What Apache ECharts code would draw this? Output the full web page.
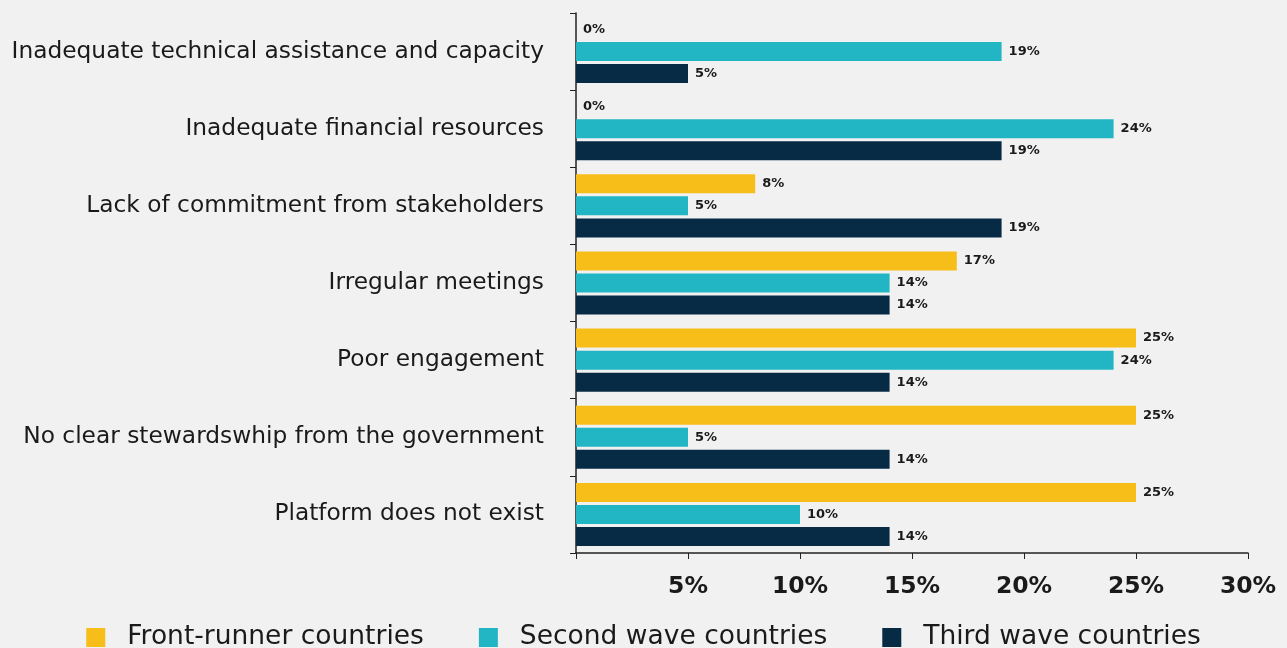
<!DOCTYPE html>
<html><head><meta charset="utf-8">
<script src="https://cdn.jsdelivr.net/npm/echarts@6/dist/echarts.min.js"></script>
<style>html,body{margin:0;padding:0;background:#f1f1f1;}#c{width:1287px;height:648px;}</style>
</head><body><div id="c"></div>
<script>
const categories = [
  "Inadequate technical assistance and capacity",
  "Inadequate financial resources",
  "Lack of commitment from stakeholders",
  "Irregular meetings",
  "Poor engagement",
  "No clear stewardswhip from the government",
  "Platform does not exist"
];
const seriesNames = ["Front-runner countries", "Second wave countries", "Third wave countries"];
const frontRunner = [0, 0, 8, 17, 25, 25, 25];
const secondWave = [19, 24, 5, 14, 24, 5, 10];
const thirdWave = [5, 19, 19, 14, 14, 14, 14];
const colors = ["#F7BE1A", "#22B5C3", "#072A45"];

const font = "DejaVu Sans";
const chart = echarts.init(document.getElementById('c'));
const mk = (name, data, color) => ({
  name, type: 'bar', data, barWidth: 19, barGap: '16%',
  itemStyle: { color },
  label: { show: true, position: 'right', distance: 7, formatter: '{c}%',
    fontFamily: font, fontWeight: 'bold', fontSize: 13, color: '#1a1a1a' }
});
chart.setOption({
  backgroundColor: '#f1f1f1',
  animation: false,
  grid: { left: 576, right: 39, top: 13, bottom: 95, containLabel: false },
  legend: {
    bottom: -8, left: 'center', itemWidth: 19, itemHeight: 19, itemGap: 55,
    icon: 'rect',
    textStyle: { fontFamily: font, fontSize: 26.5, color: '#1a1a1a', padding: [0, 0, 0, 17] },
    data: seriesNames
  },
  xAxis: {
    type: 'value', min: 0, max: 30, interval: 5,
    axisLine: { show: true, lineStyle: { color: '#222', width: 1.5 } },
    axisTick: { show: true, length: 6, lineStyle: { color: '#222' } },
    splitLine: { show: false },
    axisLabel: { margin: 22, fontFamily: font, fontWeight: 'bold', fontSize: 23.5, color: '#1a1a1a',
      formatter: v => v === 0 ? '' : v + '%' }
  },
  yAxis: {
    type: 'category', data: categories, inverse: true,
    axisLine: { show: true, lineStyle: { color: '#222', width: 1.5 } },
    axisTick: { show: true, length: 6, lineStyle: { color: '#222' } },
    axisLabel: { margin: 32, fontFamily: font, fontSize: 23.3, color: '#1a1a1a' }
  },
  series: [mk(seriesNames[0], frontRunner, colors[0]), mk(seriesNames[1], secondWave, colors[1]), mk(seriesNames[2], thirdWave, colors[2])]
});
</script></body></html>
